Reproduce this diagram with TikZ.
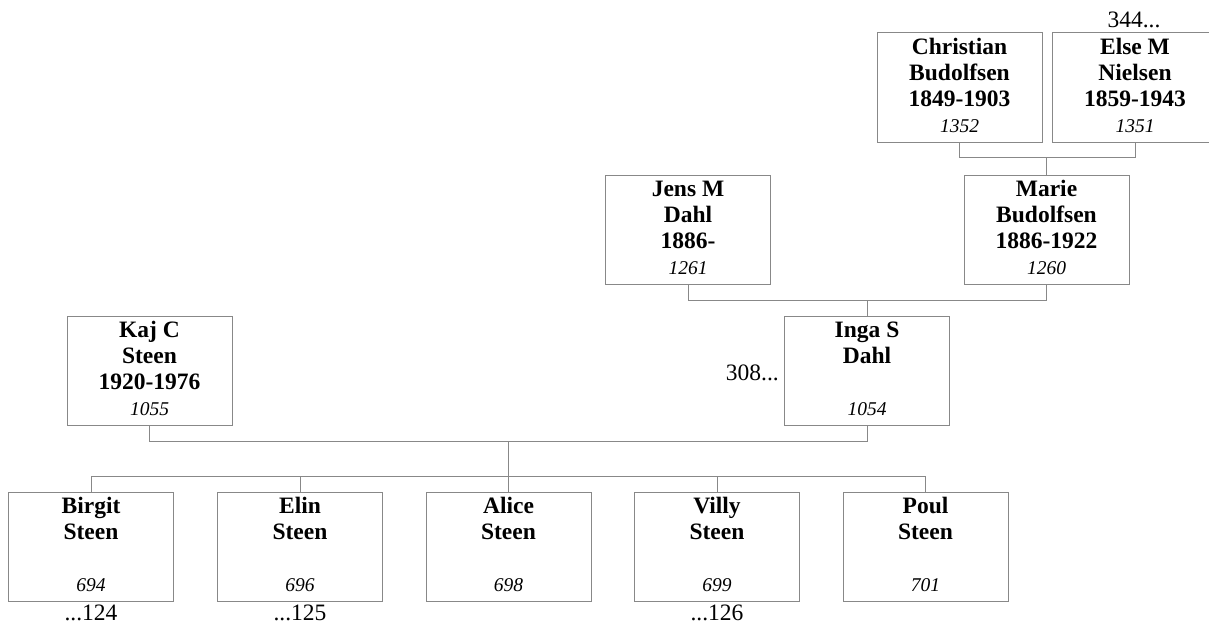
\documentclass[tikz,border=0pt]{standalone}
\usepackage{fontspec}
\setmainfont{Liberation Serif}
\definecolor{lc}{RGB}{136,136,136}
\tikzset{
  person/.style={draw=lc, line width=1pt, minimum width=165pt, minimum height=109pt, inner sep=0pt, outer sep=0pt},
  nm/.style={anchor=north, align=center, inner sep=0pt, font=\fontsize{23.5}{26}\selectfont\bfseries},
  num/.style={anchor=base, inner sep=0pt, font=\fontsize{19.5}{22}\selectfont\itshape},
  ref/.style={inner sep=0pt, font=\fontsize{23.5}{26}\selectfont},
  conn/.style={draw=lc, line width=1pt}
}
\newcommand{\fl}{\rule{0pt}{17pt}}
\begin{document}
\begin{tikzpicture}[x=1pt,y=-1pt]
\useasboundingbox (0,0) rectangle (1209,626);
\clip (0,0) rectangle (1209,626);
% boxes
\node[person] (chr) at (959.5,87.5) {};
\node[person] (els) at (1135,87.5) {};
\node[person] (mar) at (1046.5,229.5) {};
\node[person] (jen) at (688,229.5) {};
\node[person] (ing) at (867,371) {};
\node[person] (kaj) at (149.5,371) {};
\node[person] (bir) at (91,546.5) {};
\node[person] (eli) at (300,546.5) {};
\node[person] (ali) at (508.5,546.5) {};
\node[person] (vil) at (717,546.5) {};
\node[person] (pou) at (925.5,546.5) {};
% names
\node[nm] (chrN) at ([yshift=-4pt]chr.north) {\fl Christian\\Budolfsen\\1849-1903};
\node[nm] (elsN) at ([yshift=-4pt]els.north) {\fl Else M\\Nielsen\\1859-1943};
\node[nm] (marN) at ([yshift=-4pt]mar.north) {\fl Marie\\Budolfsen\\1886-1922};
\node[nm] (jenN) at ([yshift=-4pt]jen.north) {\fl Jens M\\Dahl\\1886-};
\node[nm] (ingN) at ([yshift=-4pt]ing.north) {\fl Inga S\\Dahl};
\node[nm] (kajN) at ([yshift=-4pt]kaj.north) {\fl Kaj C\\Steen\\1920-1976};
\node[nm] (birN) at ([yshift=-4pt]bir.north) {\fl Birgit\\Steen};
\node[nm] (eliN) at ([yshift=-4pt]eli.north) {\fl Elin\\Steen};
\node[nm] (aliN) at ([yshift=-4pt]ali.north) {\fl Alice\\Steen};
\node[nm] (vilN) at ([yshift=-4pt]vil.north) {\fl Villy\\Steen};
\node[nm] (pouN) at ([yshift=-4pt]pou.north) {\fl Poul\\Steen};
% numbers
\node[num] (chrK) at ([yshift=9.5pt]chr.south) {1352};
\node[num] (elsK) at ([yshift=9.5pt]els.south) {1351};
\node[num] (marK) at ([yshift=9.5pt]mar.south) {1260};
\node[num] (jenK) at ([yshift=9.5pt]jen.south) {1261};
\node[num] (ingK) at ([yshift=10pt]ing.south) {1054};
\node[num] (kajK) at ([yshift=10pt]kaj.south) {1055};
\node[num] (birK) at ([yshift=9.5pt]bir.south) {694};
\node[num] (eliK) at ([yshift=9.5pt]eli.south) {696};
\node[num] (aliK) at ([yshift=9.5pt]ali.south) {698};
\node[num] (vilK) at ([yshift=9.5pt]vil.south) {699};
\node[num] (pouK) at ([yshift=9.5pt]pou.south) {701};
% references
\node[ref, anchor=base] (r344) at (1134,28) {344...};
\node[ref, anchor=base east] (r308) at (779,380) {308...};
\node[ref, anchor=base] (r124) at (91,620) {...124};
\node[ref, anchor=base] (r125) at (300,620) {...125};
\node[ref, anchor=base] (r126) at (717,620) {...126};
% connectors
\draw[conn] (chr.south) -- ++(0,15) -| (els.south);
\draw[conn] (mar.north) -- ++(0,-18);
\draw[conn] (jen.south) -- ++(0,16) -| (mar.south);
\draw[conn] (ing.north) -- ++(0,-16);
\draw[conn] (kaj.south) -- ++(0,16) -| (ing.south);
\draw[conn] (ali.north) -- ++(0,-50);
\draw[conn] (bir.north) -- ++(0,-16) -| (pou.north);
\draw[conn] (eli.north) -- ++(0,-16);
\draw[conn] (vil.north) -- ++(0,-16);
\end{tikzpicture}
\end{document}
